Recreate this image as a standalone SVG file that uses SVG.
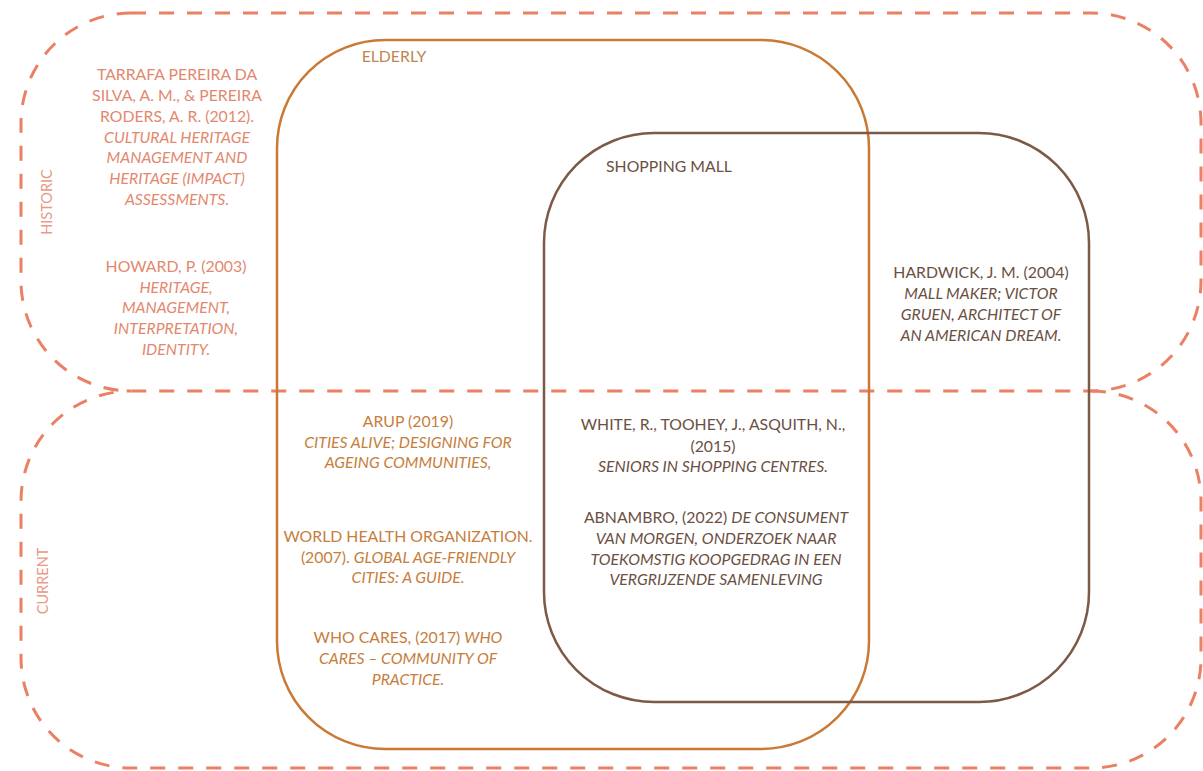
<svg xmlns="http://www.w3.org/2000/svg" width="1203" height="771" viewBox="0 0 1203 771">
<style>
.dash{fill:none;stroke:#EA8064;stroke-width:3;stroke-dasharray:15 13}
.eld{fill:none;stroke:#C97A35;stroke-width:2.5}
.mall{fill:none;stroke:#7C5A45;stroke-width:2.5}
text{font-family:Lato,"Open Sans","Liberation Sans",sans-serif;font-size:15.8px;text-anchor:middle}
.it{font-style:italic}
.hist{fill:#E3886E}
.cur{fill:#C67E3C}
.ml{fill:#6B5043}
.axis{fill:#E99A87;font-size:14.5px}
</style>
<rect width="1203" height="771" fill="#FFFFFF"/>
<g id="historic">
<rect class="dash" x="21" y="13" width="1180" height="378" rx="110" ry="110"/>
<text class="axis" transform="translate(52,202) rotate(-90)">HISTORIC</text>
</g>
<g id="current">
<path class="dash" d="M1091,391 A110,110 0 0 1 1201,501 L1201,658 A110,110 0 0 1 1091,768 L131,768 A110,110 0 0 1 21,658 L21,501 A110,110 0 0 1 131,391"/>
<text class="axis" transform="translate(48,581) rotate(-90)">CURRENT</text>
</g>
<g id="elderly">
<rect class="eld" x="277" y="40" width="592" height="709" rx="108" ry="108"/>
<text x="394" y="62" fill="#BF8650">ELDERLY</text>
</g>
<g id="shopping-mall">
<rect class="mall" x="544" y="133" width="545" height="569" rx="110" ry="110"/>
<text x="669" y="172" fill="#6B5043">SHOPPING MALL</text>
</g>
<g id="ref-tarrafa" class="hist">
<text x="177" y="80">TARRAFA PEREIRA DA</text>
<text x="177" y="101">SILVA, A. M., &amp; PEREIRA</text>
<text x="177" y="122">RODERS, A. R. (2012).</text>
<text x="177" y="143" class="it">CULTURAL HERITAGE</text>
<text x="177" y="163" class="it">MANAGEMENT AND</text>
<text x="177" y="184" class="it">HERITAGE (IMPACT)</text>
<text x="177" y="205" class="it">ASSESSMENTS.</text>
</g>
<g id="ref-howard" class="hist">
<text x="176" y="272">HOWARD, P. (2003)</text>
<text x="176" y="293" class="it">HERITAGE,</text>
<text x="176" y="313" class="it">MANAGEMENT,</text>
<text x="176" y="334" class="it">INTERPRETATION,</text>
<text x="176" y="355" class="it">IDENTITY.</text>
</g>
<g id="ref-hardwick" class="ml">
<text x="981" y="278">HARDWICK, J. M. (2004)</text>
<text x="981" y="299" class="it">MALL MAKER; VICTOR</text>
<text x="981" y="320" class="it">GRUEN, ARCHITECT OF</text>
<text x="981" y="341" class="it">AN AMERICAN DREAM.</text>
</g>
<g id="ref-arup" class="cur">
<text x="408" y="427">ARUP (2019)</text>
<text x="408" y="448" class="it">CITIES ALIVE; DESIGNING FOR</text>
<text x="408" y="468" class="it">AGEING COMMUNITIES,</text>
</g>
<g id="ref-who" class="cur">
<text x="408" y="542">WORLD HEALTH ORGANIZATION.</text>
<text x="408" y="563">(2007). <tspan class="it">GLOBAL AGE-FRIENDLY</tspan></text>
<text x="408" y="583" class="it">CITIES: A GUIDE.</text>
</g>
<g id="ref-whocares" class="cur">
<text x="408" y="643">WHO CARES, (2017) <tspan class="it">WHO</tspan></text>
<text x="408" y="664" class="it">CARES – COMMUNITY OF</text>
<text x="408" y="685" class="it">PRACTICE.</text>
</g>
<g id="ref-white" class="ml">
<text x="713" y="430">WHITE, R., TOOHEY, J., ASQUITH, N.,</text>
<text x="713" y="452">(2015)</text>
<text x="713" y="472" class="it">SENIORS IN SHOPPING CENTRES.</text>
</g>
<g id="ref-abnambro" class="ml">
<text x="716" y="523">ABNAMBRO, (2022) <tspan class="it">DE CONSUMENT</tspan></text>
<text x="716" y="544" class="it">VAN MORGEN, ONDERZOEK NAAR</text>
<text x="716" y="565" class="it">TOEKOMSTIG KOOPGEDRAG IN EEN</text>
<text x="716" y="585" class="it">VERGRIJZENDE SAMENLEVING</text>
</g>
<g id="connectors"/>
</svg>
